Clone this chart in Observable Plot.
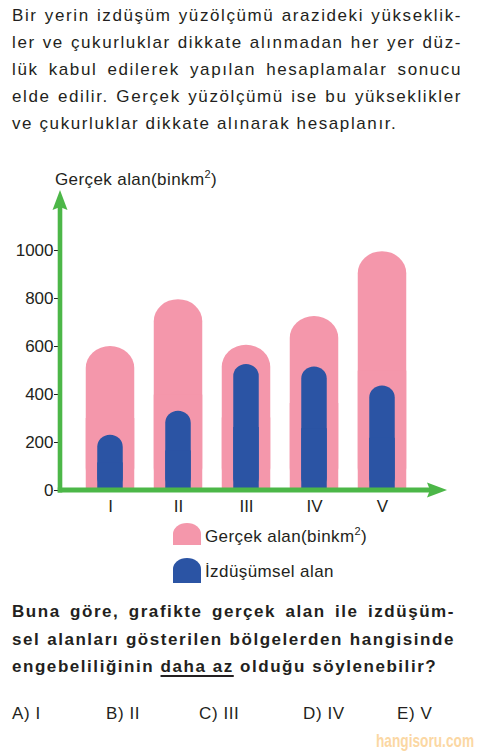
<!DOCTYPE html>
<html><head><meta charset="utf-8">
<script src="https://cdn.jsdelivr.net/npm/d3@7"></script>
<script src="https://cdn.jsdelivr.net/npm/@observablehq/plot@0.6"></script>
<style>
html,body{margin:0;padding:0;background:#fff;}
#page{position:relative;width:478px;height:753px;overflow:hidden;font-family:"Liberation Sans",Arial,Helvetica,sans-serif;color:#231f20;}
.para{position:absolute;left:12px;font-size:17px;}
.para div{white-space:nowrap;}
.j{text-align:justify;text-align-last:justify;}
#p1{top:2px;width:450px;line-height:27px;letter-spacing:1.6px;}
#q{top:598px;width:443px;line-height:27.5px;letter-spacing:1.55px;font-weight:bold;}
#q u{text-decoration-thickness:1.5px;text-underline-offset:3px;}
.abs{position:absolute;white-space:nowrap;font-size:17px;line-height:20px;}
.opt{position:absolute;top:700px;font-size:17px;line-height:27px;letter-spacing:0.6px;}
.sw{position:absolute;left:173px;width:28px;border-radius:14px 14px 0 0 / 11px 11px 0 0;}
#chart{position:absolute;left:0;top:160px;}
#wm{position:absolute;left:376px;top:730px;font-size:19px;line-height:22px;font-weight:bold;color:#fbd7a3;white-space:nowrap;transform:scaleX(0.72);transform-origin:0 0;}
</style>
</head><body>
<div id="page">
  <div class="para" id="p1">
    <div class="j">Bir yerin izdüşüm yüzölçümü arazideki yükseklik-</div>
    <div class="j">ler ve çukurluklar dikkate alınmadan her yer düz-</div>
    <div class="j">lük kabul edilerek yapılan hesaplamalar sonucu</div>
    <div class="j">elde edilir. Gerçek yüzölçümü ise bu yükseklikler</div>
    <div>ve çukurluklar dikkate alınarak hesaplanır.</div>
  </div>
  <div id="chart"></div>
  <div class="abs" style="left:55px;top:170px;letter-spacing:0.4px;">Gerçek alan(binkm<sup style="font-size:11px;vertical-align:7px;line-height:0">2</sup>)</div>
  <div class="sw" style="top:523px;height:22px;background:#f497ab;"></div>
  <div class="sw" style="top:558px;height:25px;background:#2b54a4;"></div>
  <div class="abs" style="left:205px;top:527px;letter-spacing:0.4px;">Gerçek alan(binkm<sup style="font-size:11px;vertical-align:7px;line-height:0">2</sup>)</div>
  <div class="abs" style="left:205px;top:562px;letter-spacing:0.4px;">İzdüşümsel alan</div>
  <div class="para" id="q">
    <div class="j">Buna göre, grafikte gerçek alan ile izdüşüm-</div>
    <div class="j">sel alanları gösterilen bölgelerden hangisinde</div>
    <div>engebeliliğinin <u>daha az</u> olduğu söylenebilir?</div>
  </div>
  <div class="opt" style="left:12px;">A) I</div>
  <div class="opt" style="left:106px;">B) II</div>
  <div class="opt" style="left:199px;">C) III</div>
  <div class="opt" style="left:303px;">D) IV</div>
  <div class="opt" style="left:397px;">E) V</div>
  <div id="wm">hangisoru.com</div>
</div>
<script>
const regions = ["I", "II", "III", "IV", "V"];
const gercekAlan = [600, 795, 605, 725, 995];
const izdusumselAlan = [230, 330, 525, 515, 435];
const yTicks = [0, 200, 400, 600, 800, 1000];

const pink = "#f497ab", blue = "#2b54a4", green = "#4cb748";
const data = regions.map((r, i) => ({region: r, gercek: gercekAlan[i], izdusum: izdusumselAlan[i]}));

function axesMark(index, scales, values, dims) {
  const {width, marginLeft, marginRight, marginTop} = dims;
  const y0 = scales.y(0);
  const xL = marginLeft, xR = width - marginRight, yT = marginTop;
  const g = d3.create("svg:g").attr("fill", green).attr("stroke", "none");
  g.append("rect").attr("x", xL - 2.3).attr("y", yT + 17).attr("width", 4.6).attr("height", y0 + 2.5 - (yT + 17));
  g.append("path").attr("d", `M${xL},${yT}L${xL + 7.5},${yT + 20}L${xL},${yT + 17}L${xL - 7.5},${yT + 20}Z`);
  g.append("rect").attr("x", xL - 2.3).attr("y", y0 - 2.5).attr("width", xR - 17 - (xL - 2.3)).attr("height", 5);
  g.append("path").attr("d", `M${xR},${y0}L${xR - 20},${y0 - 7.5}L${xR - 17},${y0}L${xR - 20},${y0 + 7.5}Z`);
  return g.node();
}

const chart = Plot.plot({
  width: 478,
  height: 355,
  marginLeft: 60,
  marginRight: 31,
  marginTop: 30,
  marginBottom: 25,
  style: {fontFamily: "'Liberation Sans', Arial, sans-serif", fontSize: "17px", color: "#231f20", background: "transparent", overflow: "visible"},
  x: {type: "band", domain: regions, range: [74.25, 416.75], padding: 0, label: null, tickSize: 0, tickPadding: 9},
  y: {domain: [0, 1250], ticks: yTicks, tickFormat: d => String(d), tickSize: 6, tickPadding: 1, label: null},
  marks: [
    Plot.barY(data, {x: "region", y1: 0, y2: "gercek", fill: pink, rx: 24.5, ry: 22, insetLeft: 9.75, insetRight: 9.75}),
    Plot.barY(data, {x: "region", y1: 0, y2: d => d.gercek / 2, fill: pink, insetLeft: 9.75, insetRight: 9.75}),
    Plot.barY(data, {x: "region", y1: 0, y2: "izdusum", fill: blue, rx: 13, ry: 12, insetLeft: 21.25, insetRight: 21.25}),
    Plot.barY(data, {x: "region", y1: 0, y2: d => d.izdusum / 2, fill: blue, insetLeft: 21.25, insetRight: 21.25}),
    axesMark
  ]
});
document.getElementById("chart").appendChild(chart);
</script>
</body></html>
